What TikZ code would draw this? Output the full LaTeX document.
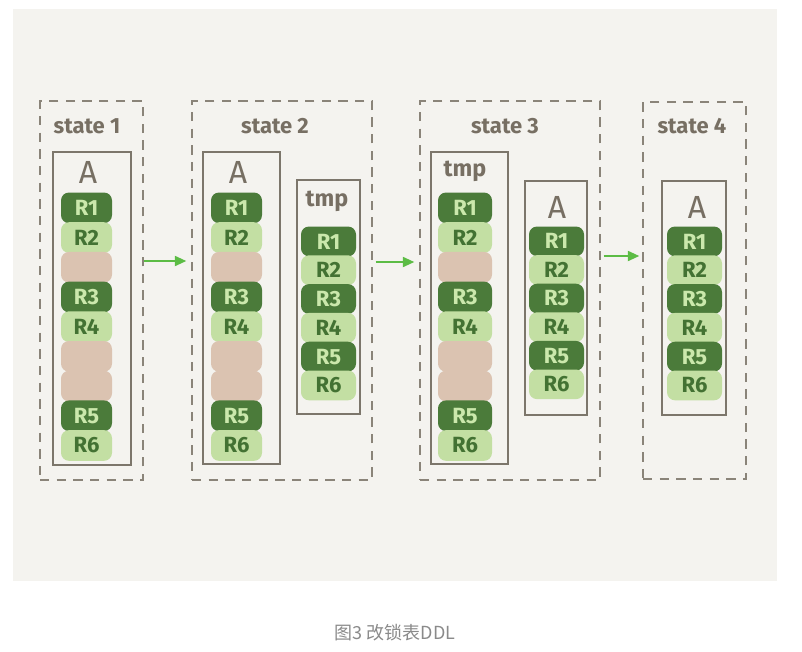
\documentclass[tikz,border=0pt]{standalone}
\usepackage{fontspec}
\usetikzlibrary{arrows.meta}
\newfontfamily\handfont{Fira Sans}
\newfontfamily\cjkfont{Noto Sans CJK SC}
\definecolor{bgc}{HTML}{F4F3EF}
\definecolor{dkg}{HTML}{4B7B3A}
\definecolor{ltg}{HTML}{C3DFA3}
\definecolor{brn}{HTML}{DBC3B1}
\definecolor{ltx}{HTML}{CBE8AC}
\definecolor{dkx}{HTML}{437233}
\definecolor{linec}{HTML}{8A8479}
\definecolor{boxc}{HTML}{7C766B}
\definecolor{titc}{HTML}{776F63}
\definecolor{arrc}{HTML}{5CBC45}
\definecolor{capc}{HTML}{8A8A8A}
\newcommand\pxl[1]{(#1)*0.75pt}
\tikzset{
  dbox/.style={draw=linec, line width=1.1pt, dash pattern=on 7pt off 5.5pt, inner sep=0pt},
  sbox/.style={draw=boxc, line width=0.9pt, inner sep=0pt},
  blk/.style={rounded corners=6pt, inner sep=0pt, font=\handfont\bfseries\fontsize{16.5}{16.5}\selectfont},
  blkd/.style={blk, fill=dkg, text=ltx},
  blkl/.style={blk, fill=ltg, text=dkx},
  blkb/.style={blk, fill=brn},
  title/.style={text=titc, font=\handfont\bfseries\fontsize{16.5}{16.5}\selectfont, inner sep=0pt},
  tname/.style={text=titc, font=\handfont\bfseries\fontsize{17.5}{17.5}\selectfont, inner sep=0pt},
  aname/.style={text=titc, font=\handfont\fontsize{24}{24}\selectfont, inner sep=0pt},
  arr/.style={draw=arrc, line width=1.3pt, -{Triangle[length=8.5pt,width=7.5pt]}},
}
\newcommand\blockcol[6]{%
  \foreach \t/\l [count=\i] in {#6} {
    \node[blk\t, minimum width=\pxl{#5}, minimum height=\pxl{#4+1}] (#1-\i) at (#2, {#3+(\i-0.5)*#4}) {\l};
  }%
}
\begin{document}
\begin{tikzpicture}[x=0.75pt, y=-0.75pt]
\useasboundingbox (0,0) rectangle (802,651);
\fill[white] (0,0) rectangle (802,651);
\fill[bgc] (13,9) rectangle (777,581);

% state boxes
\node[dbox, minimum width=\pxl{103}, minimum height=\pxl{379}] (s1) at (91.5,290.5) {};
\node[dbox, minimum width=\pxl{180}, minimum height=\pxl{379}] (s2) at (282,290.5) {};
\node[dbox, minimum width=\pxl{180}, minimum height=\pxl{379}] (s3) at (510,290.5) {};
\node[dbox, minimum width=\pxl{103}, minimum height=\pxl{377}] (s4) at (694.5,290.5) {};

\node[title] (t1) at (87,126) {state 1};
\node[title] (t2) at (275,126) {state 2};
\node[title] (t3) at (505,126) {state 3};
\node[title] (t4) at (692,126) {state 4};

% table boxes
\node[sbox, minimum width=\pxl{78}, minimum height=\pxl{313}] (b1) at (92,308.5) {};
\node[sbox, minimum width=\pxl{77}, minimum height=\pxl{312}] (b2a) at (241.5,308) {};
\node[sbox, minimum width=\pxl{63}, minimum height=\pxl{234}] (b2t) at (328.5,297) {};
\node[sbox, minimum width=\pxl{77}, minimum height=\pxl{312}] (b3t) at (469.5,308) {};
\node[sbox, minimum width=\pxl{62}, minimum height=\pxl{234}] (b3a) at (556,298) {};
\node[sbox, minimum width=\pxl{64}, minimum height=\pxl{234}] (b4) at (694,298) {};

\node[aname] (n1) at (88,172) {A};
\node[aname] (n2a) at (238,172) {A};
\node[tname] (n2t) at (327,201) {tmp};
\node[tname] (n3t) at (465,171) {tmp};
\node[aname] (n3a) at (557,207) {A};
\node[aname] (n4) at (697,207) {A};

% blocks
\blockcol{c1}{86.5}{193}{29.7}{51}{d/R1,l/R2,b/{},d/R3,l/R4,b/{},b/{},d/R5,l/R6}
\blockcol{c2a}{236.5}{193}{29.7}{51}{d/R1,l/R2,b/{},d/R3,l/R4,b/{},b/{},d/R5,l/R6}
\blockcol{c2t}{328.5}{227}{28.8}{55}{d/R1,l/R2,d/R3,l/R4,d/R5,l/R6}
\blockcol{c3t}{465}{193}{29.7}{54}{d/R1,l/R2,b/{},d/R3,l/R4,b/{},b/{},d/R5,l/R6}
\blockcol{c3a}{556.5}{227}{28.6}{55}{d/R1,l/R2,d/R3,l/R4,d/R5,l/R6}
\blockcol{c4}{694.5}{227}{28.8}{55}{d/R1,l/R2,d/R3,l/R4,d/R5,l/R6}

% arrows
\draw[arr] ([xshift=0.3pt,yshift=\pxl{29.5}]s1.east) -- ([xshift=\pxl{-5},yshift=\pxl{29.5}]s2.west);
\draw[arr] ([xshift=\pxl{3},yshift=\pxl{28.5}]s2.east) -- ([xshift=\pxl{-5},yshift=\pxl{28.5}]s3.west);
\draw[arr] ([xshift=\pxl{3},yshift=\pxl{34.5}]s3.east) -- ([xshift=\pxl{-3},yshift=\pxl{34.5}]s4.west);

\node[text=capc, font=\cjkfont\fontsize{13.5}{13.5}\selectfont] (cap) at (395,633) {图3 改锁表DDL};
\end{tikzpicture}
\end{document}
